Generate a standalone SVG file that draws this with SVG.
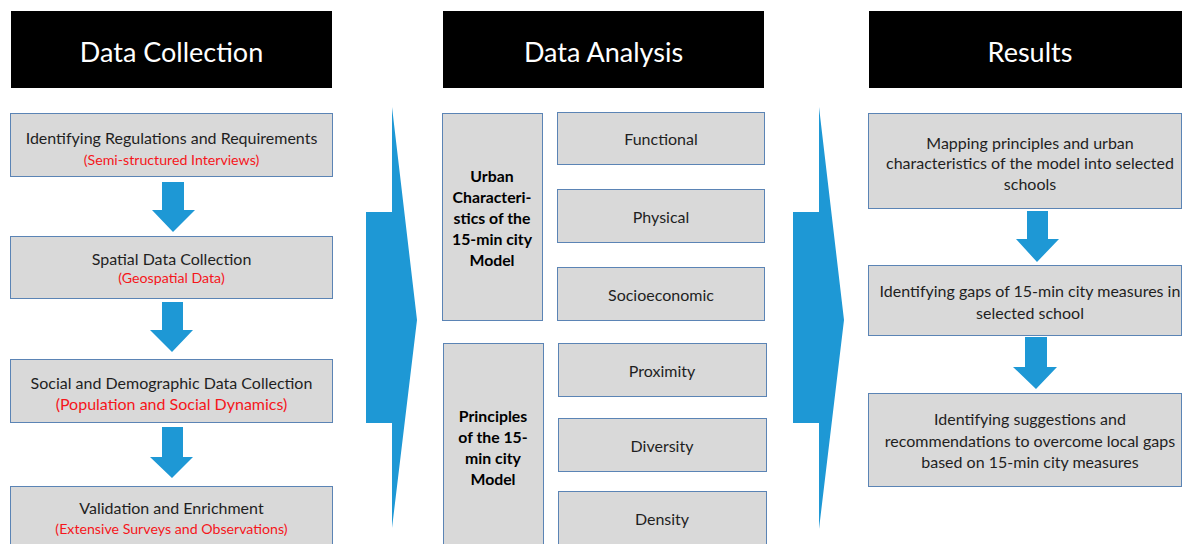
<svg xmlns="http://www.w3.org/2000/svg" width="1182" height="544" viewBox="0 0 1182 544">
<style>
.hdr{fill:#000}
.ht{fill:#fff;font-family:Lato,"Open Sans",sans-serif;font-size:27px;text-anchor:middle;dominant-baseline:central}
.box{fill:#d9d9d9;stroke:#5b84b5;stroke-width:1}
.t{fill:#1f1f1f;font-family:Lato,"Open Sans",sans-serif;font-size:16px;text-anchor:middle;dominant-baseline:central}
.b{font-weight:bold;fill:#000;font-size:15.8px}
.r{fill:#f5161b;font-size:14.2px}
.r2{fill:#f5161b;font-size:16px}
.arr{fill:#1e98d5}
</style>
<rect width="1182" height="544" fill="#fff"/>
<g id="hdr-collection"><rect class="hdr" x="11" y="11" width="321" height="77"/><text class="ht" x="171.5" y="51">Data Collection</text></g>
<g id="hdr-analysis"><rect class="hdr" x="443" y="11" width="321" height="77"/><text class="ht" x="603.5" y="51">Data Analysis</text></g>
<g id="hdr-results"><rect class="hdr" x="869" y="11" width="313" height="77"/><text class="ht" x="1030" y="51">Results</text></g>

<g id="n-regulations"><rect class="box" x="10.5" y="113.5" width="322" height="63"/><text class="t" x="171.5" y="137">Identifying Regulations and Requirements</text><text class="t r" x="171.5" y="159">(Semi-structured Interviews)</text></g>
<g id="n-spatial"><rect class="box" x="10.5" y="236.5" width="322" height="62"/><text class="t" x="171.5" y="258">Spatial Data Collection</text><text class="t r" x="171.5" y="277">(Geospatial Data)</text></g>
<g id="n-social"><rect class="box" x="10.5" y="359.5" width="322" height="63"/><text class="t" x="171.5" y="382">Social and Demographic Data Collection</text><text class="t r2" x="171.5" y="403">(Population and Social Dynamics)</text></g>
<g id="n-validation"><rect class="box" x="10.5" y="486.5" width="322" height="70"/><text class="t" x="171.5" y="507">Validation and Enrichment</text><text class="t r" x="171.5" y="528">(Extensive Surveys and Observations)</text></g>

<g id="n-urban"><rect class="box" x="442.5" y="113.5" width="100" height="207"/>
<text class="t b" x="492" y="175">Urban</text><text class="t b" x="492" y="196">Characteri-</text><text class="t b" x="492" y="217">stics of the</text><text class="t b" x="492" y="238">15-min city</text><text class="t b" x="492" y="259">Model</text></g>
<g id="n-functional"><rect class="box" x="557.5" y="112.5" width="207" height="52"/><text class="t" x="661" y="138">Functional</text></g>
<g id="n-physical"><rect class="box" x="557.5" y="189.5" width="207" height="53"/><text class="t" x="661" y="216">Physical</text></g>
<g id="n-socioeconomic"><rect class="box" x="557.5" y="267.5" width="207" height="53"/><text class="t" x="661" y="294">Socioeconomic</text></g>

<g id="n-principles"><rect class="box" x="443.5" y="343.5" width="100" height="210"/>
<text class="t b" x="493" y="415">Principles</text><text class="t b" x="493" y="436">of the 15-</text><text class="t b" x="493" y="457">min city</text><text class="t b" x="493" y="478">Model</text></g>
<g id="n-proximity"><rect class="box" x="558.5" y="343.5" width="208" height="53"/><text class="t" x="662" y="370">Proximity</text></g>
<g id="n-diversity"><rect class="box" x="558.5" y="418.5" width="208" height="53"/><text class="t" x="662" y="445">Diversity</text></g>
<g id="n-density"><rect class="box" x="558.5" y="491.5" width="208" height="53"/><text class="t" x="662" y="518">Density</text></g>

<g id="n-mapping"><rect class="box" x="868.5" y="113.5" width="313" height="95"/>
<text class="t" x="1030" y="142">Mapping principles and urban</text><text class="t" x="1030" y="162">characteristics of the model into selected</text><text class="t" x="1030" y="183">schools</text></g>
<g id="n-gaps"><rect class="box" x="868.5" y="265.5" width="313" height="70"/>
<text class="t" x="1030" y="290">Identifying gaps of 15-min city measures in</text><text class="t" x="1030" y="312">selected school</text></g>
<g id="n-suggestions"><rect class="box" x="868.5" y="393.5" width="313" height="93"/>
<text class="t" x="1030" y="418">Identifying suggestions and</text><text class="t" x="1030" y="440">recommendations to overcome local gaps</text><text class="t" x="1030" y="461">based on 15-min city measures</text></g>

<g id="connectors">
<polygon class="arr" points="162,182 184,182 184,210 195,210 173,232 152,210 162,210"/>
<polygon class="arr" points="162,302 183,302 183,330 193,330 172,352 150,330 162,330"/>
<polygon class="arr" points="162,427 183,427 183,457 193,457 172,478 150,457 162,457"/>
<polygon class="arr" points="1027,211 1048,211 1048,239 1059,239 1037,262 1016,239 1027,239"/>
<polygon class="arr" points="1025,337 1047,337 1047,367 1057,367 1036,389 1013,367 1025,367"/>
<polygon class="arr" points="366,212 392,212 392,107 417,320 392,528 392,423 366,423"/>
<polygon class="arr" points="793,212 819,212 819,107 844,320 819,529 819,423 793,423"/>
</g>
</svg>
